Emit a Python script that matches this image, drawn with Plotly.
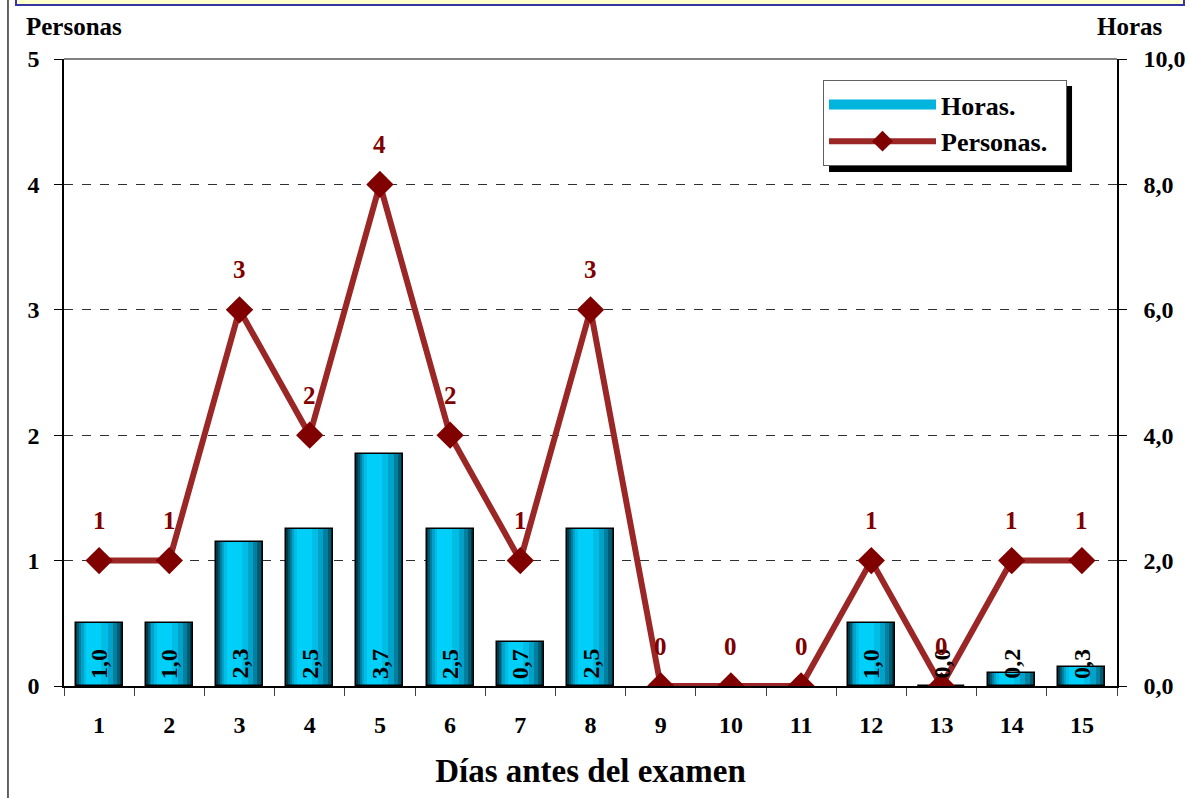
import plotly.graph_objects as go

# ---- data ----
days = [str(d) for d in range(1, 16)]
horas = [1.0, 1.0, 2.3, 2.5, 3.7, 2.5, 0.7, 2.5, None, None, None, 1.0, 0.0, 0.2, 0.3]
personas = [1, 1, 3, 2, 4, 2, 1, 3, 0, 0, 0, 1, 0, 1, 1]
left_ticks = [0, 1, 2, 3, 4, 5]
right_ticks = [0, 2, 4, 6, 8, 10]

FONT = "Liberation Serif"
RED = "#800000"
BAR_W = 0.67

# gradient layers (fraction of bar width from left edge, colour)
layers = [
    (0.00, 1.00, "#003a4a"),
    (0.04, 0.95, "#005a72"),
    (0.08, 0.88, "#007f9f"),
    (0.12, 0.79, "#00a2c9"),
    (0.17, 0.68, "#00bde6"),
    (0.23, 0.55, "#00cff9"),
]

fig = go.Figure()

# legend-only entry for bars (wide swatch)
fig.add_trace(go.Scatter(x=[days[0]], y=[None], name="Horas.", yaxis="y", mode="lines",
                         line=dict(color="#00b4de", width=13), showlegend=True))

bar_vals = [v if v is not None else 0 for v in horas]
for lo, hi, col in layers:
    fig.add_trace(go.Bar(
        x=days, y=bar_vals, yaxis="y",
        width=BAR_W * (hi - lo), offset=-BAR_W / 2 + BAR_W * lo,
        marker=dict(color=col, line=dict(width=0)),
        showlegend=False, hoverinfo="skip"))
# outline
fig.add_trace(go.Bar(
    x=days, y=horas, yaxis="y", width=BAR_W, offset=-BAR_W / 2,
    marker=dict(color="rgba(0,0,0,0)", line=dict(color="black", width=1.5)),
    showlegend=False, hoverinfo="skip"))

# Personas line
fig.add_trace(go.Scatter(
    x=days, y=personas, yaxis="y2", name="Personas.\u00a0\u00a0", mode="lines+markers",
    line=dict(color="#9a2626", width=6),
    marker=dict(symbol="diamond", size=21, color=RED)))

annotations = []
for i, h in enumerate(horas):
    if h is None:
        continue
    annotations.append(dict(
        x=i, y=0, xref="x", yref="y", text=f"{h:.1f}".replace(".", ","),
        textangle=-90, showarrow=False, yanchor="bottom", yshift=5,
        font=dict(family=FONT, size=24, color="black", weight="bold")))
for i, p in enumerate(personas):
    annotations.append(dict(
        x=i, y=p, xref="x", yref="y2", text=str(p), showarrow=False,
        yshift=40, font=dict(family=FONT, size=25, color=RED, weight="bold")))

# axis titles at top
annotations.append(dict(x=-0.038, y=1.077, xref="paper", yref="paper", text="Personas",
                        showarrow=False, xanchor="left", yanchor="top",
                        font=dict(family=FONT, size=25, color="black", weight="bold")))
annotations.append(dict(x=1.0456, y=1.077, xref="paper", yref="paper", text="Horas",
                        showarrow=False, xanchor="right", yanchor="top",
                        font=dict(family=FONT, size=25, color="black", weight="bold")))

shapes = [
    # top border of plot area
    dict(type="line", xref="paper", yref="paper", x0=0, x1=1, y0=1, y1=1,
         line=dict(color="#808080", width=2), layer="above"),
    # outer frame left line
    dict(type="line", xref="paper", yref="paper", x0=-0.0532, x1=-0.0532, y0=-0.2, y1=1.1,
         line=dict(color="#303030", width=1.5)),
    # title box remnant at top
    dict(type="rect", xref="paper", yref="paper", x0=-0.0456, x1=1.0636, y0=1.0861, y1=1.12,
         fillcolor="#ffffcc", line=dict(color="#3535a5", width=2)),
    # legend shadow
    dict(type="rect", xref="paper", yref="paper", x0=0.7265, x1=0.9573, y0=0.8198, y1=0.9569,
         fillcolor="black", line=dict(width=0), layer="above"),
]

fig.update_layout(
    width=1190, height=798,
    margin=dict(l=64, r=73, t=59, b=112),
    paper_bgcolor="white", plot_bgcolor="white",
    barmode="overlay", bargap=0,
    separators=",.",
    font=dict(family=FONT, size=24, color="black", weight="bold"),
    xaxis=dict(type="category", range=[-0.5, 14.5], autorange=False,
               tickson="boundaries", ticks="outside", ticklen=8,
               tickcolor="#404040", showline=True, linecolor="black", linewidth=1.5,
               tickfont=dict(family=FONT, size=24, weight="bold"),
               ticklabelstandoff=16, automargin=False,
               title=dict(text="Días antes del examen", standoff=22,
                          font=dict(family=FONT, size=33, weight="bold")),
               showgrid=False, zeroline=False),
    yaxis=dict(side="right", range=[0, 10], tickvals=right_ticks, tickformat=".1f",
               ticks="outside", ticklen=8, tickcolor="black",
               showline=True, linecolor="black", linewidth=1.5,
               ticklabelstandoff=12, automargin=False,
               showgrid=True, gridcolor="#303030", griddash="dash", gridwidth=1,
               zeroline=False, tickfont=dict(family=FONT, size=24, weight="bold")),
    yaxis2=dict(side="left", overlaying="y", range=[0, 5], tickvals=left_ticks,
                ticks="outside", ticklen=8, tickcolor="black",
                showline=True, linecolor="black", linewidth=1.5,
                ticklabelstandoff=10, automargin=False,
                showgrid=False, zeroline=False,
                tickfont=dict(family=FONT, size=24, weight="bold")),
    legend=dict(x=0.7208, y=0.9665, xanchor="left", yanchor="top",
                bgcolor="white", bordercolor="#606060", borderwidth=1,
                font=dict(family=FONT, size=26, weight="bold"),
                traceorder="normal", itemwidth=107, tracegroupgap=0),
    annotations=annotations, shapes=shapes,
)

fig.write_html("out.html")
